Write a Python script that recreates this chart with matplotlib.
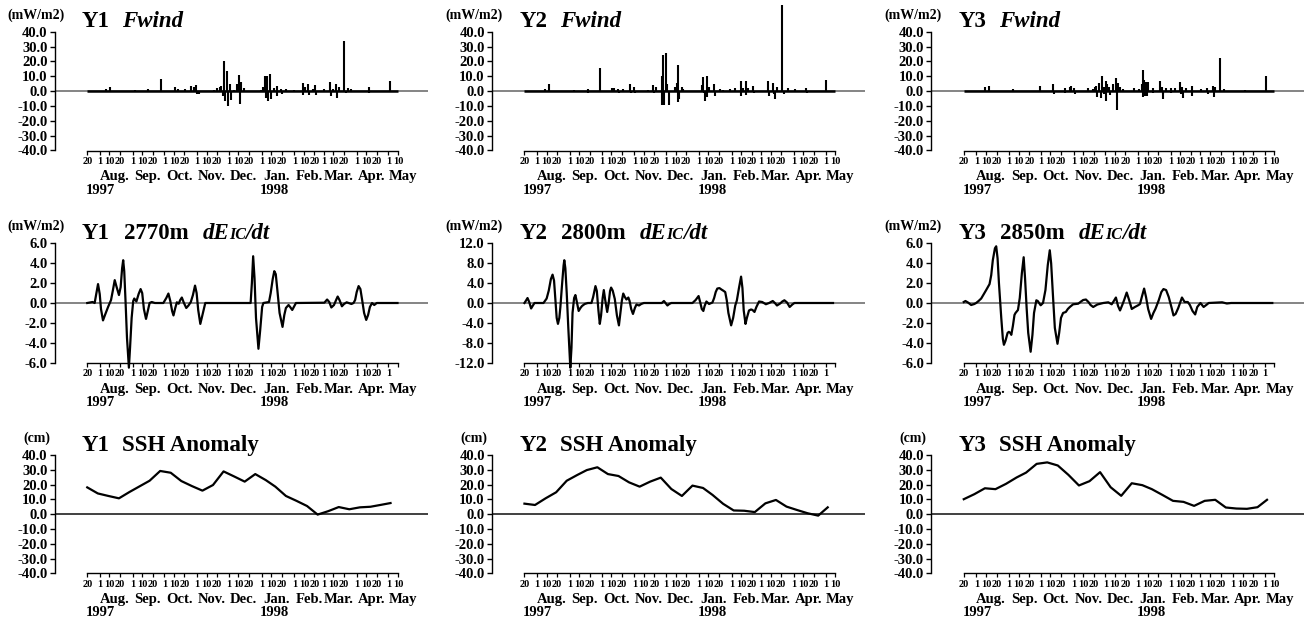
import datetime as dt
import matplotlib
matplotlib.use("Agg")
import matplotlib.pyplot as plt
from matplotlib.offsetbox import TextArea, HPacker, AnchoredOffsetbox, DrawingArea

plt.rcParams['font.family'] = ['Liberation Serif', 'DejaVu Serif']
plt.rcParams['font.weight'] = 'bold'
plt.rcParams['axes.linewidth'] = 1.0

# record period (x values are days after T0)
T0 = dt.date(1997, 7, 20)
T1 = dt.date(1998, 5, 10)

# ---- Fwind (mW/m2), spikes: day, value
y1_wind_day = [18.1, 21.9, 45.1, 57.8, 58.4, 69.8, 83.2, 86.3, 92.7, 98.1, 100.6, 103.2, 103.8, 105.4,
               119.7, 122.9, 125.4, 127.0, 128.6, 129.5, 130.8, 132.4, 133.3, 134.9, 136.2, 138.7, 141.9,
               143.5, 144.1, 145.7, 148.3, 164.1, 166.3, 167.9, 169.2, 170.5, 171.4, 173.0, 174.3, 176.8,
               179.4, 180.0, 183.8, 184.4, 187.9, 195.9, 203.8, 204.4, 206.3, 209.2, 209.8, 213.3, 215.6,
               216.2, 224.4, 230.2, 230.8, 232.4, 235.6, 236.2, 237.8, 242.9, 244.4, 246.7, 249.8, 266.3,
               267.0, 286.3]
y1_wind_val = [1.5, 3.0, 0.8, 1.2, -0.5, 7.9, 3.0, 1.5, 1.2, 3.5, 3.0, 4.0, -2.0, -2.0,
               1.0, 2.0, 3.0, 3.5, -3.0, 20.0, -7.0, 13.5, -10.2, 5.0, -6.0, 1.0, 5.0,
               11.0, -8.5, 6.0, 2.0, 1.0, 3.0, 10.0, -4.5, 10.5, -6.5, 11.3, -5.0, 2.0,
               3.5, -3.0, 1.5, -2.0, 1.5, 0.5, 5.5, -2.5, 3.0, 4.5, -2.5, 1.5, 4.0,
               -2.5, 1.5, 6.0, -3.0, 1.5, 4.5, -4.5, 3.0, 34.0, -1.5, 2.0, 1.5, 2.5,
               -1.0, 7.0]

y2_wind_day = [19.2, 23.6, 46.5, 59.7, 60.4, 71.7, 82.7, 84.9, 89.0, 89.6, 93.7, 100.0, 100.6, 104.1,
               104.7, 117.3, 122.0, 122.6, 124.5, 129.9, 130.2, 131.1, 132.4, 134.0, 135.2, 136.5, 142.5,
               144.0, 145.0, 145.3, 146.5, 148.7, 150.3, 167.6, 169.2, 169.5, 170.8, 172.3, 173.0, 174.8,
               179.6, 180.2, 184.9, 188.1, 194.3, 199.1, 204.7, 205.3, 206.9, 209.4, 210.1, 211.6, 216.4,
               217.0, 230.5, 231.1, 235.2, 235.8, 237.4, 239.3, 243.4, 245.3, 249.4, 255.7, 266.7, 267.3,
               285.5]
y2_wind_val = [1.5, 4.5, 0.7, 1.5, -1.0, 15.5, 2.0, 2.0, 1.5, -1.0, 1.5, 4.5, -1.0, 3.0,
               -1.5, 1.0, 4.0, -1.0, 3.0, 10.0, -9.5, 24.0, -9.5, 25.5, 5.0, -9.5, 3.0,
               5.5, 17.5, -7.5, -5.0, 2.5, 1.5, 4.0, 9.5, -1.0, -6.5, 10.0, -4.0, 3.0,
               4.5, -3.5, 1.5, 1.0, 1.5, 2.0, 6.5, -3.5, 2.0, 6.5, -2.5, 2.0, 3.5,
               -1.0, 6.5, -3.0, 5.5, -2.0, -5.0, 3.0, 58.0, -2.0, 2.0, 1.5, 2.0, -1.0,
               7.5]

y3_wind_day = [19.7, 24.1, 47.0, 72.1, 84.6, 85.3, 95.6, 96.2, 100.3, 101.9, 104.4, 105.0, 117.6, 122.3,
               123.8, 125.4, 126.0, 127.6, 129.5, 131.0, 132.6, 132.9, 134.2, 134.8, 135.7, 137.9, 138.6,
               141.1, 144.2, 144.8, 145.8, 148.3, 150.5, 160.8, 166.1, 168.3, 169.3, 169.9, 170.8, 171.2,
               172.4, 173.0, 174.6, 178.7, 179.3, 185.9, 187.5, 188.1, 189.0, 191.2, 195.9, 196.6, 199.7,
               204.7, 205.3, 206.9, 207.5, 210.0, 215.7, 216.3, 224.1, 230.4, 231.0, 236.1, 236.7, 238.2,
               242.9, 246.1, 266.5, 286.2]
y3_wind_val = [2.5, 3.5, 1.5, 3.5, 5.0, -2.0, 2.0, -1.0, 3.0, 3.5, 2.0, -2.0, 2.0, 1.5,
               3.0, 3.5, -4.0, 5.5, -4.5, 10.5, 3.0, -2.0, 7.0, -6.5, 5.0, 3.0, -2.5,
               5.0, 9.0, -12.5, 5.5, 3.0, 1.5, 2.0, 1.5, 5.0, 14.0, -4.0, 7.5, -3.0,
               6.0, -3.5, 6.0, 2.0, -1.5, 7.0, 3.0, -2.0, -5.5, 2.0, 2.0, -1.5, 2.0,
               6.0, -2.0, 3.0, -4.5, 2.0, 3.5, -3.5, 1.5, 2.0, -2.0, 3.5, -4.0, 2.5,
               22.5, 1.5, 1.0, 10.0]

# ---- dEIC/dt (mW/m2)
y1_de_day = [0, 5, 7, 8.5, 10.2, 11.8, 13, 14.9, 16.8, 19.7, 22.5, 24.3, 26, 27.8, 30, 31.6, 33, 34, 35,
             36.3, 37.6, 39.4, 40.5, 42, 43.5, 44.5, 46.5, 48.6, 50.5, 52, 53.6, 55.6, 57.3, 59, 61, 64,
             72, 74.8, 76.8, 78.6, 80.3, 81.6, 83.3, 84.8, 86.5, 88, 89.5, 91.5, 93.7, 95.8, 98, 100,
             102, 103.5, 105, 107, 108.8, 111.7, 154.6, 155.8, 157, 158.3, 159.7, 162, 163.6, 165.5,
             166.7, 172, 173.6, 175.5, 177, 178.4, 180, 182, 184.8, 186.5, 188, 190.5, 192, 194, 195.5,
             197.5, 224.4, 227, 229, 231, 233.5, 235.5, 237, 238.7, 241, 243, 245.5, 250, 252, 253.5,
             255, 256.8, 258.5, 260.3, 262, 264, 265.8, 267.5, 269.5, 271.6, 274, 293.6]
y1_de_val = [0.0, 0.1, 0.0, 0.9, 1.9, 0.9, -0.6, -1.75, -1.2, -0.4, 0.3, 1.3, 2.3, 1.6, 0.8, 1.6, 3.5, 4.3,
             3.2, 0.0, -3.5, -6.5, -4.5, -1.5, 0.2, 0.45, 0.15, 0.9, 1.4, 1.0, -0.6, -1.6, -0.8, 0.0,
             0.1, 0.0, 0.0, 0.5, 0.95, 0.2, -0.8, -1.25, -0.5, 0.07, -0.07, 0.3, 0.55, 0.0, -0.5,
             -0.25, 0.1, 0.8, 1.75, 1.0, -0.7, -2.1, -1.3, 0.0, 0.0, 2.0, 4.7, 2.5, -1.5, -4.6, -2.8,
             -0.4, 0.0, 0.1, 1.0, 2.4, 3.2, 2.9, 1.2, -1.0, -2.4, -1.2, -0.5, -0.2, -0.4, -0.7, -0.4,
             0.0, 0.03, 0.35, 0.1, -0.45, -0.2, 0.3, 0.65, 0.3, -0.33, -0.1, 0.07, -0.1, 0.0, 0.3,
             1.1, 1.7, 1.4, 0.2, -1.0, -1.7, -1.2, -0.4, 0.0, -0.2, 0.0, 0.0]

y2_de_day = [0, 1.5, 2.9, 4.5, 6.3, 8, 9.5, 18, 21, 23, 25, 26.6, 28, 29.5, 30.5, 31.7, 33, 34, 35.5, 37,
             37.7, 38.7, 40, 41.5, 43.4, 44.5, 45.5, 47, 48.2, 49.5, 51.3, 53, 54.5, 57, 60, 63.4, 65,
             67.2, 68.5, 70, 71.3, 72.5, 74, 75.1, 76.5, 78.3, 79.7, 81, 82, 83.5, 85.5, 87.5, 89.4,
             90.8, 92.2, 93.5, 95, 96.5, 98.3, 99.5, 101, 102.7, 104.5, 106, 108.4, 110.5, 113, 130,
             132, 133.5, 135.3, 137, 139, 159, 162, 164.8, 166.5, 167.8, 169.3, 170.5, 172.2, 174.7,
             177.9, 179.5, 181, 182.5, 184.5, 186.5, 188, 190, 191.5, 193, 195.6, 197.5, 199.5, 201,
             203, 205, 206.3, 207.5, 209.2, 210.5, 212.5, 214.4, 215.8, 217.7, 219.5, 222, 225, 228.5,
             231.5, 235, 237, 239, 242, 244, 246, 248.5, 251, 253.5, 255.5, 292]
y2_de_val = [0.0, 0.5, 1.0, 0.2, -1.1, -0.5, 0.0, 0.0, 0.9, 2.5, 4.8, 5.7, 4.5, 0.0, -3.0, -4.2, -3.0,
             -0.8, 3.5, 7.5, 8.6, 7.0, 2.0, -5.0, -13.0, -9.0, -2.0, 1.0, 1.6, 0.3, -1.6, -1.0, -0.6,
             -0.2, 0.0, 0.0, 1.2, 3.4, 2.4, -1.5, -4.2, -2.5, 1.0, 2.6, 0.5, -1.8, 0.0, 2.4, 3.1, 2.5,
             0.8, -2.5, -4.5, -2.0, 0.5, 1.9, 1.2, 0.7, 1.1, 0.4, -1.2, -2.2, -1.0, -0.3, -0.5, -0.2,
             0.0, 0.0, 0.4, 0.0, -0.5, -0.2, 0.0, 0.0, 0.6, 1.4, 0.0, -1.2, -1.6, -0.6, 0.3, -0.2, 0.1,
             1.0, 2.2, 2.9, 3.0, 2.7, 2.5, 2.2, 0.5, -2.0, -4.5, -3.0, -0.5, 0.5, 3.0, 5.3, 3.0, -1.5,
             -4.2, -3.0, -1.5, -1.3, -1.4, -1.8, -0.8, 0.3, 0.2, -0.25, 0.0, 0.4, 0.0, -0.5, -0.1, 0.3,
             0.55, 0.1, -0.8, -0.3, 0.0, 0.0]

y3_de_day = [0, 1.6, 4, 7, 10, 11.7, 14, 16.5, 19, 21.2, 24.4, 26, 27.5, 29.5, 30.7, 32, 33.3, 35.5, 37,
             38, 39.5, 41.5, 42.7, 44, 45, 46.5, 48, 49, 51.3, 53, 55, 56.7, 58, 59.5, 61, 63.3, 65,
             66.5, 68.7, 70, 72.8, 75, 77.3, 79.5, 81.4, 82.7, 84.5, 86.2, 88.7, 90.3, 92, 94, 96.6,
             98.5, 100.4, 103.5, 108.3, 111, 113, 115.6, 118, 120, 122.5, 126.5, 132, 136.8, 140, 142,
             144, 146, 147.9, 150, 151.8, 154.2, 156.5, 159, 162, 165, 166.8, 168.5, 170.7, 172.5,
             174.5, 177.3, 179.5, 181.5, 184.5, 187, 189, 191.5, 194, 196.5, 198.5, 200.5, 203, 206.5,
             209, 212, 214, 216.5, 219, 221, 224, 227, 229.5, 231.8, 244.5, 249, 253, 292]
y3_de_val = [0.1, 0.2, 0.05, -0.2, -0.1, 0.0, 0.2, 0.45, 0.9, 1.3, 1.9, 2.8, 4.3, 5.5, 5.7, 4.5, 2.0,
             -1.5, -3.6, -4.2, -3.8, -3.0, -2.9, -3.0, -3.2, -2.3, -1.2, -1.0, -0.7, 0.5, 3.0, 4.6, 2.5,
             -0.5, -3.0, -4.9, -3.2, -1.0, 0.27, 0.2, -0.23, 0.0, 1.3, 3.8, 5.3, 4.0, 0.6, -2.5, -4.1,
             -3.0, -1.5, -1.0, -0.9, -0.6, -0.4, -0.13, -0.07, 0.15, 0.3, 0.35, 0.1, -0.2, -0.4, -0.15,
             0.0, 0.07, -0.13, 0.2, 0.55, -0.3, -0.75, -0.2, 0.3, 1.05, 0.3, -0.6, -0.4, -0.23, -0.1,
             0.6, 1.45, 0.6, -0.6, -1.6, -1.0, -0.57, 0.27, 1.1, 1.4, 1.3, 0.6, -0.4, -1.25, -1.1, -0.5,
             0.55, 0.1, 0.1, -0.2, -0.8, -1.15, -0.4, 0.0, -0.4, -0.2, 0.0, 0.07, -0.05, 0.0, 0.0]

# ---- SSH anomaly (cm), one value per altimeter cycle
ssh_day = [0, 10, 20, 30, 40, 50, 59, 69, 79, 89, 99, 109, 119, 129, 139, 149, 159, 169, 178, 188,
           198, 208, 218, 228, 238, 248, 258, 268, 278, 287]
y1_ssh = [18.1, 14.0, 12.3, 10.7, 15.0, 19.0, 22.6, 29.2, 28.0, 22.4, 19.0, 15.9, 19.7, 28.9, 25.5,
          22.0, 27.1, 23.0, 18.6, 12.3, 9.0, 5.5, -0.3, 2.0, 4.8, 3.3, 4.6, 5.0, 6.3, 7.5]
y2_ssh = [7.1, 6.2, 10.7, 14.8, 22.6, 26.5, 29.8, 31.7, 27.1, 25.8, 21.5, 18.6, 22.0, 24.7, 17.0,
          12.3, 19.3, 17.7, 13.0, 7.0, 2.5, 2.3, 1.4, 7.3, 9.6, 5.1, 2.8, 0.6, -1.0, 4.6]
y3_ssh = [10.1, 13.5, 17.5, 16.9, 20.5, 24.8, 28.1, 34.0, 35.0, 32.9, 26.6, 19.4, 22.3, 28.4, 18.2,
          12.4, 20.9, 19.6, 16.9, 13.0, 9.0, 8.3, 5.6, 9.0, 9.7, 4.5, 3.8, 3.6, 4.7, 9.7]

stations = ["Y1", "Y2", "Y3"]
depths = ["2770m", "2800m", "2850m"]
de_ylim = [6.0, 12.0, 6.0]
month_names = ["Aug.", "Sep.", "Oct.", "Nov.", "Dec.", "Jan.", "Feb.", "Mar.", "Apr.", "May"]

# layout in pixels of the 1308x621 picture
W, H = 1308, 621
col_left = [54.5, 491.7, 931.0]
col_width = 373.0
row_top = [31.7, 243.3, 455.0]
row_bot = [150.5, 362.7, 573.3]
XLIM = (-31, 322)


def day(d):
    return (d - T0).days


tick_dates = []
for yy, mm in [(1997, m) for m in range(7, 13)] + [(1998, m) for m in range(1, 6)]:
    for dd in (1, 10, 20):
        d = dt.date(yy, mm, dd)
        if T0 <= d <= T1:
            tick_dates.append(d)
tick_pos = [day(d) for d in tick_dates]
month_mid = [day(dt.date(1997 + (m < 7), m, 15)) for m in [8, 9, 10, 11, 12, 1, 2, 3, 4, 5]]
year_pos = [(day(T0), "1997"), (day(dt.date(1998, 1, 1)), "1998")]


def title_box(ax, parts, x_days):
    kids = []
    for p in parts:
        if isinstance(p, (int, float)):
            kids.append(DrawingArea(p, 0))
        else:
            s, style, fs = p
            kids.append(TextArea(s, textprops=dict(fontsize=fs, fontweight='bold', fontstyle=style)))
    pack = HPacker(children=kids, align='baseline', pad=0, sep=0)
    box = AnchoredOffsetbox(loc='lower left', child=pack, pad=0, borderpad=0, frameon=False,
                            bbox_to_anchor=(x_days, 0.995), bbox_transform=ax.get_xaxis_transform())
    ax.add_artist(box)


def style_axes(ax, ylim, ystep, unit, last_label=True, zero_color='#707070'):
    ax.set_xlim(*XLIM)
    ax.set_ylim(-ylim, ylim)
    n = int(round(2 * ylim / ystep))
    yt = [-ylim + i * ystep for i in range(n + 1)]
    ax.set_yticks(yt, ["%.1f" % v for v in yt])
    labels = [str(d.day) for d in tick_dates]
    if not last_label:
        labels[-1] = ""
    ax.set_xticks(tick_pos, labels)
    ax.spines['top'].set_visible(False)
    ax.spines['right'].set_visible(False)
    ax.spines['bottom'].set_bounds(day(T0), day(T1))
    ax.tick_params(axis='y', direction='out', length=3.5, width=1.0, pad=1.5, labelsize=10.5)
    ax.tick_params(axis='x', direction='out', length=3, width=0.9, pad=1.5, labelsize=7.5)
    ax.axhline(0, color=zero_color, lw=1.2, zorder=1)
    for x, name in zip(month_mid, month_names):
        ax.annotate(name, xy=(x, 0), xycoords=('data', 'axes fraction'), xytext=(0, -21.5),
                    textcoords='offset points', ha='center', va='baseline', fontsize=10.5)
    for x, name in year_pos:
        ax.annotate(name, xy=(x, 0), xycoords=('data', 'axes fraction'), xytext=(-1, -31),
                    textcoords='offset points', ha='left', va='baseline', fontsize=10.5)
    ax.annotate(unit, xy=(0, 1), xycoords='axes fraction', xytext=(-13, 12), textcoords='offset points',
                ha='center', va='center', fontsize=10)
    ax.patch.set_visible(False)


fig = plt.figure(figsize=(W / 100, H / 100), dpi=100)

wind = [(y1_wind_day, y1_wind_val), (y2_wind_day, y2_wind_val), (y3_wind_day, y3_wind_val)]
de = [(y1_de_day, y1_de_val), (y2_de_day, y2_de_val), (y3_de_day, y3_de_val)]
ssh = [y1_ssh, y2_ssh, y3_ssh]

for c in range(3):
    axes = []
    for r in range(3):
        rect = [col_left[c] / W, 1 - row_bot[r] / H, col_width / W, (row_bot[r] - row_top[r]) / H]
        axes.append(fig.add_axes(rect))
    a1, a2, a3 = axes

    # Fwind
    style_axes(a1, 40.0, 10.0, "(mW/m2)")
    wd, wv = wind[c]
    a1.hlines(0, day(T0), day(T1), colors='k', lw=1.8, zorder=2)
    a1.vlines(wd, 0, wv, colors='k', lw=1.5, zorder=3, clip_on=False)
    title_box(a1, [(stations[c], 'normal', 16.5), 9, ("Fwind", 'italic', 16.5)], -5)

    # dEIC/dt
    lim = de_ylim[c]
    style_axes(a2, lim, lim / 3, "(mW/m2)", last_label=False)
    dd, dv = de[c]
    a2.plot(dd, dv, color='k', lw=1.6, zorder=3, clip_on=False)
    title_box(a2, [(stations[c], 'normal', 16.5), 10, (depths[c], 'normal', 16.5), 10,
                   ("dE", 'italic', 16.5), ("IC", 'italic', 11.5), ("/dt", 'italic', 16.5)], -5)

    # SSH anomaly
    style_axes(a3, 40.0, 10.0, "(cm)", zero_color='#202020')
    a3.plot(ssh_day, ssh[c], color='k', lw=1.6, zorder=3, clip_on=False)
    title_box(a3, [(stations[c], 'normal', 16.5), 9, ("SSH Anomaly", 'normal', 16.5)], -5)

fig.savefig("out.png", dpi=100)
